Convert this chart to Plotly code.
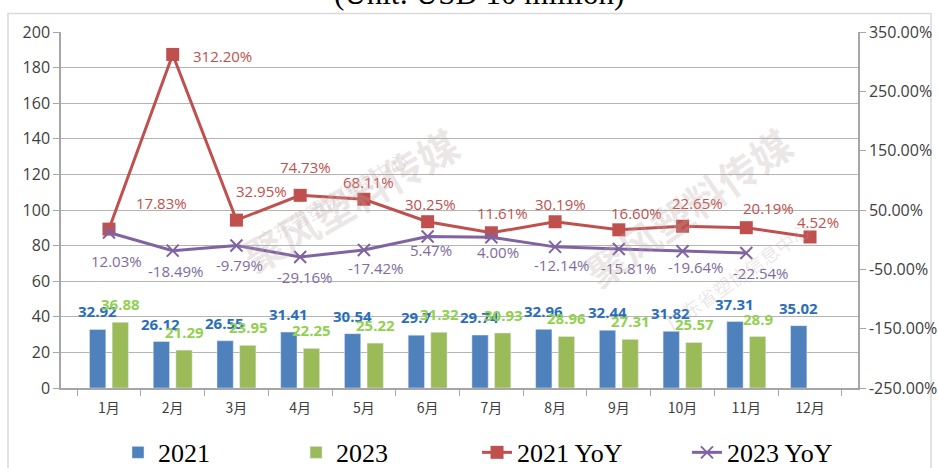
import plotly.graph_objects as go

months = ["1月", "2月", "3月", "4月", "5月", "6月", "7月", "8月", "9月", "10月", "11月", "12月"]
v2021 = [32.92, 26.12, 26.55, 31.41, 30.54, 29.7, 29.74, 32.96, 32.44, 31.82, 37.31, 35.02]
v2023 = [36.88, 21.29, 23.95, 22.25, 25.22, 31.32, 30.93, 28.96, 27.31, 25.57, 28.9, None]
yoy2021 = [17.83, 312.20, 32.95, 74.73, 68.11, 30.25, 11.61, 30.19, 16.60, 22.65, 20.19, 4.52]
yoy2023 = [12.03, -18.49, -9.79, -29.16, -17.42, 5.47, 4.00, -12.14, -15.81, -19.64, -22.54, None]
y2_ticks = [350, 250, 150, 50, -50, -150, -250]

# label offsets in pixels (style only)
red_off = [(53, 26), (50, -2), (25, 29), (5, 28), (5, 17), (3, 18), (11, 20), (5, 18), (18, 17), (15, 23), (22, 20), (8, 15)]
pur_off = [(8, -28), (3, -20), (3, -20), (4, -20), (12, -18), (3, -14), (7, -15), (6, -18), (10, -19), (13, -16), (14, -20)]

C_BLUE = "#4F81BD"
C_GREEN = "#9BBB59"
C_RED = "#C0504D"
C_PURPLE = "#8064A2"
TXT = "#404040"

fig = go.Figure()
fig.add_trace(go.Bar(x=months, y=v2021, name="2021", marker_color=C_BLUE, legend="legend"))
fig.add_trace(go.Bar(x=months, y=v2023, name="2023", marker_color=C_GREEN, legend="legend2"))
fig.add_trace(go.Scatter(x=months, y=yoy2021, name="2021 YoY", yaxis="y2", mode="lines+markers",
                         line=dict(color=C_RED, width=3),
                         marker=dict(symbol="square", size=13, color=C_RED), legend="legend3"))
fig.add_trace(go.Scatter(x=months, y=yoy2023, name="2023 YoY", yaxis="y2", mode="lines+markers",
                         line=dict(color=C_PURPLE, width=3),
                         marker=dict(symbol="x-thin", size=12, line=dict(color=C_PURPLE, width=2)),
                         legend="legend4"))

ann = []
for m, v in zip(months, v2021):
    ann.append(dict(x=m, y=v, xref="x", yref="y", text=f"{v:g}", showarrow=False,
                    xshift=-11.8, yshift=18, font=dict(family="Open Sans", size=15, color="#2A6EBB", weight="bold")))
for m, v in zip(months, v2023):
    if v is None:
        continue
    ann.append(dict(x=m, y=v, xref="x", yref="y", text=f"{v:g}", showarrow=False,
                    xshift=11.8, yshift=18, font=dict(family="Open Sans", size=15, color="#92D050", weight="bold")))
for m, v, (dx, dy) in zip(months, yoy2021, red_off):
    ann.append(dict(x=m, y=v, xref="x", yref="y2", text=f"{v:.2f}%", showarrow=False,
                    xshift=dx, yshift=dy, font=dict(family="Open Sans", size=15, color=C_RED)))
for m, v, (dx, dy) in zip(months, yoy2023, pur_off):
    if v is None:
        continue
    ann.append(dict(x=m, y=v, xref="x", yref="y2", text=f"{v:.2f}%", showarrow=False,
                    xshift=dx, yshift=dy, font=dict(family="Open Sans", size=15, color="#7E6B9C")))

# title (cut off at top of image, as in the reference)
ann.append(dict(x=0.5245, y=1, xref="paper", yref="paper", yanchor="bottom", yshift=19,
                text="(Unit: USD 10 million)", showarrow=False,
                font=dict(family="Liberation Serif", size=31, color="#000000")))
# watermark
WM = "rgba(190,170,170,0.28)"
ann.append(dict(x=0.21, y=0.776, xref="paper", yref="paper", text="聚风塑料传媒", showarrow=False, textangle=-30,
                font=dict(family="Noto Sans CJK SC", size=40, color=WM, weight="bold")))
ann.append(dict(x=0.235, y=0.69, xref="paper", yref="paper", text="广东省塑协信息中心", showarrow=False, textangle=-30,
                font=dict(family="Noto Sans CJK SC", size=19, color=WM)))
ann.append(dict(x=0.935, y=0.24, xref="paper", yref="paper", text="聚风塑料传媒", showarrow=False, textangle=-35,
                font=dict(family="Noto Sans CJK SC", size=40, color=WM, weight="bold")))
ann.append(dict(x=0.95, y=0.14, xref="paper", yref="paper", text="广东省塑协信息中心", showarrow=False, textangle=-35,
                font=dict(family="Noto Sans CJK SC", size=19, color=WM)))

LEG_FONT = dict(family="Liberation Serif", size=26, color="#000000")
def leg(x):
    return dict(orientation="h", x=x, xanchor="left", y=-0.115, yanchor="top",
                font=LEG_FONT, bgcolor="rgba(0,0,0,0)")

fig.update_layout(
    width=938, height=468,
    margin=dict(l=61, r=80, t=32, b=80, autoexpand=False),
    paper_bgcolor="white", plot_bgcolor="white",
    barmode="group", bargap=0.29, bargroupgap=0.28,
    showlegend=True,
    legend=leg(0.0715), legend2=leg(0.2949), legend3=leg(0.5220), legend4=leg(0.7854),
    xaxis=dict(type="category", showline=True, linecolor="#A6A6A6", linewidth=1.5,
               ticks="outside", tickson="boundaries", ticklen=6, tickcolor="#A6A6A6",
               ticklabelstandoff=6,
               tickfont=dict(family="Noto Sans CJK SC", size=14, color=TXT), showgrid=False),
    yaxis=dict(range=[0, 200], dtick=20, showgrid=True, gridcolor="#B4B4B4", gridwidth=1.4,
               showline=True, linecolor="#A6A6A6", linewidth=1.5, ticks="outside", ticklen=6,
               tickcolor="#A6A6A6", zeroline=False,
               tickfont=dict(family="Open Sans", size=16, color=TXT)),
    yaxis2=dict(overlaying="y", side="right", range=[-250, 350], tickvals=y2_ticks,
                ticktext=[f"{t:.2f}%" for t in y2_ticks], showgrid=False, zeroline=False,
                showline=True, linecolor="#A6A6A6", linewidth=1.5, ticks="outside", ticklen=6,
                tickcolor="#A6A6A6", tickfont=dict(family="Open Sans", size=16, color=TXT)),
    annotations=ann,
    shapes=[dict(type="rect", xref="paper", yref="paper", x0=-0.0665, x1=1.0916, y0=-0.35, y1=1.052,
                 line=dict(color="#D9D9D9", width=1.5), layer="below")],
)

fig.write_html("out.html", config={"displayModeBar": False},
               post_script="document.body.style.margin='0';document.body.style.overflow='hidden';")
